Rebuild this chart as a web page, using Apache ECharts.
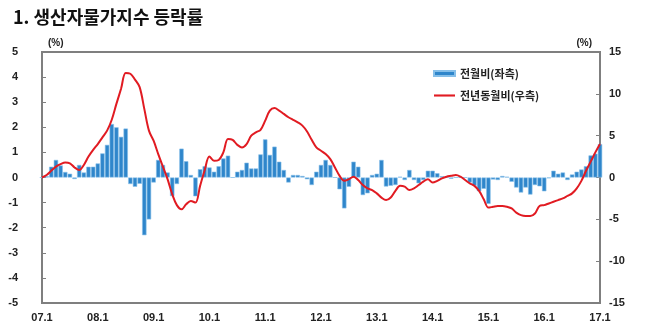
<!DOCTYPE html>
<html>
<head>
<meta charset="utf-8">
<script src="https://cdn.jsdelivr.net/npm/echarts@6/dist/echarts.min.js"></script>
<style>
html,body{margin:0;padding:0;background:#fff;}
#c{width:650px;height:332px;}
</style>
</head>
<body>
<div id="c"></div>
<script>
// Month-on-month change (%), left axis, 07.1 .. 17.1
var momValues = [
  0.0, 0.05, 0.43, 0.7, 0.48, 0.22, 0.15, -0.06, 0.5, 0.2, 0.43, 0.43,
  0.56, 0.96, 1.3, 2.13, 2.0, 1.62, 1.95, -0.26, -0.37, -0.25, -2.3, -1.67,
  -0.2, 0.7, 0.5, 0.2, -0.74, -0.26, 1.15, 0.65, 0.1, -0.75, 0.33, 0.45,
  0.4, 0.23, 0.45, 0.76, 0.87, 0.0, 0.23, 0.3, 0.59, 0.36, 0.36, 0.92,
  1.52, 0.9, 1.23, 0.63, 0.3, -0.2, 0.1, 0.1, 0.06, -0.07, -0.3, 0.23,
  0.5, 0.7, 0.5, 0.0, -0.47, -1.23, -0.37, 0.63, 0.43, -0.7, -0.63, 0.1,
  0.15, 0.7, -0.36, -0.33, -0.3, 0.03, -0.1, 0.3, -0.1, -0.23, -0.1, 0.27,
  0.27, 0.17, 0.05, 0.0, -0.05, 0.0, 0.0, 0.0, -0.2, -0.33, -0.55, -0.45,
  -1.05, -0.08, -0.1, 0.06, 0.03, -0.17, -0.4, -0.6, -0.4, -0.68, -0.3, -0.35,
  -0.55, -0.03, 0.27, 0.15, 0.2, -0.1, 0.12, 0.23, 0.32, 0.45, 0.88, 0.95,
  1.33
];
// Year-on-year change (%), right axis
var yoyValues = [
  0.0, 0.3, 0.8, 1.3, 1.6, 1.8, 1.7, 1.2, 0.9, 1.5, 2.5, 3.3,
  4.0, 4.8, 5.6, 6.9, 8.8, 10.6, 12.5, 12.4, 11.7, 10.8, 8.2, 5.6,
  4.4, 2.8, 1.3, -0.2, -2.0, -3.3, -3.8, -3.2, -2.8, -3.0, -1.0, 0.9,
  2.5, 2.0, 2.1, 3.0, 4.6, 4.5, 3.9, 3.6, 4.0, 5.0, 5.4, 5.7,
  6.8, 8.0, 8.3, 8.0, 7.6, 7.2, 6.9, 6.6, 6.2, 5.5, 4.5, 3.6,
  3.2, 2.8, 2.2, 1.2, 0.2, -0.4, -0.2, 0.1, -0.3, -0.9, -1.3, -1.5,
  -1.9, -2.4, -2.7, -2.4, -1.6, -1.0, -1.1, -1.5, -1.3, -0.9, -0.5, -0.2,
  -0.6, -0.4, -0.1, 0.1, 0.2, 0.3, 0.1, -0.3, -0.7, -1.0, -1.6, -2.6,
  -3.6, -3.5, -3.4, -3.4, -3.5, -3.7, -4.2, -4.5, -4.6, -4.6, -4.3, -3.4,
  -3.3, -3.1, -2.9, -2.7, -2.5, -2.2, -1.9, -1.3, -0.4, 0.8, 1.9, 3.0,
  4.0
];
var years = ['07','08','09','10','11','12','13','14','15','16','17'];
var seriesNames = ['전월비(좌측)', '전년동월비(우측)'];
var titleText = '1. 생산자물가지수 등락률';

var categories = [];
years.forEach(function (y, yi) {
  for (var m = 1; m <= 12; m++) {
    if (yi === years.length - 1 && m > 1) break;
    categories.push(y + '.' + m);
  }
});

var labelFont = 'Liberation Sans, Arial, sans-serif';
var chart = echarts.init(document.getElementById('c'), null, {renderer: 'canvas'});
chart.setOption({
  animation: false,
  backgroundColor: '#fff',
  title: {
    text: titleText, left: 8, top: 3,
    textStyle: {fontFamily: 'Noto Sans CJK KR', fontSize: 18, fontWeight: 'bold', color: '#111'}
  },
  legend: {
    orient: 'vertical', left: 428, top: 63, itemGap: 11,
    itemWidth: 21, itemHeight: 5, symbolKeepAspect: true,
    textStyle: {fontFamily: 'Noto Sans CJK KR', fontSize: 11, fontWeight: 'bold', color: '#222'},
    data: [
      {name: seriesNames[0], icon: 'rect'},
      {name: seriesNames[1], icon: 'path://M0,0 L10,0 L10,1 L0,1 Z'}
    ]
  },
  grid: {
    left: 42, right: 50, top: 52, bottom: 29,
    show: true, borderColor: '#7f7f7f', borderWidth: 2, backgroundColor: 'transparent'
  },
  xAxis: {
    type: 'category', data: categories, boundaryGap: false,
    axisLine: {show: false}, axisTick: {show: false},
    splitLine: {show: false},
    axisLabel: {
      interval: 11, margin: 9, color: '#222',
      fontFamily: labelFont, fontSize: 11, fontWeight: 'bold'
    }
  },
  yAxis: [{
    type: 'value', min: -5, max: 5, interval: 1,
    name: '(%)', nameGap: 4,
    nameTextStyle: {align: 'left', padding: [0, 0, 0, 6], fontFamily: labelFont, fontSize: 10, fontWeight: 'bold', color: '#222'},
    axisLine: {show: false},
    axisTick: {show: true, inside: true, length: 4, lineStyle: {color: '#7f7f7f'}},
    splitLine: {show: false},
    axisLabel: {margin: 24, color: '#222', fontFamily: labelFont, fontSize: 11, fontWeight: 'bold'}
  }, {
    type: 'value', min: -15, max: 15, interval: 5, position: 'right',
    name: '(%)', nameGap: 4,
    nameTextStyle: {align: 'right', padding: [0, 8, 0, 0], fontFamily: labelFont, fontSize: 10, fontWeight: 'bold', color: '#222'},
    axisLine: {show: false},
    axisTick: {show: true, inside: true, length: 4, lineStyle: {color: '#7f7f7f'}},
    splitLine: {show: false},
    axisLabel: {margin: 9, color: '#222', fontFamily: labelFont, fontSize: 11, fontWeight: 'bold'}
  }],
  series: [{
    name: seriesNames[0], type: 'bar', yAxisIndex: 0,
    data: momValues, barCategoryGap: '6%',
    itemStyle: {color: '#2f86cb', borderColor: '#86bfe9', borderWidth: 0.6}
  }, {
    name: seriesNames[1], type: 'line', yAxisIndex: 1,
    data: yoyValues, symbol: 'none', smooth: 0.35,
    lineStyle: {color: '#e11b22', width: 2},
    itemStyle: {color: '#e11b22'}, z: 5
  }]
});
</script>
</body>
</html>
